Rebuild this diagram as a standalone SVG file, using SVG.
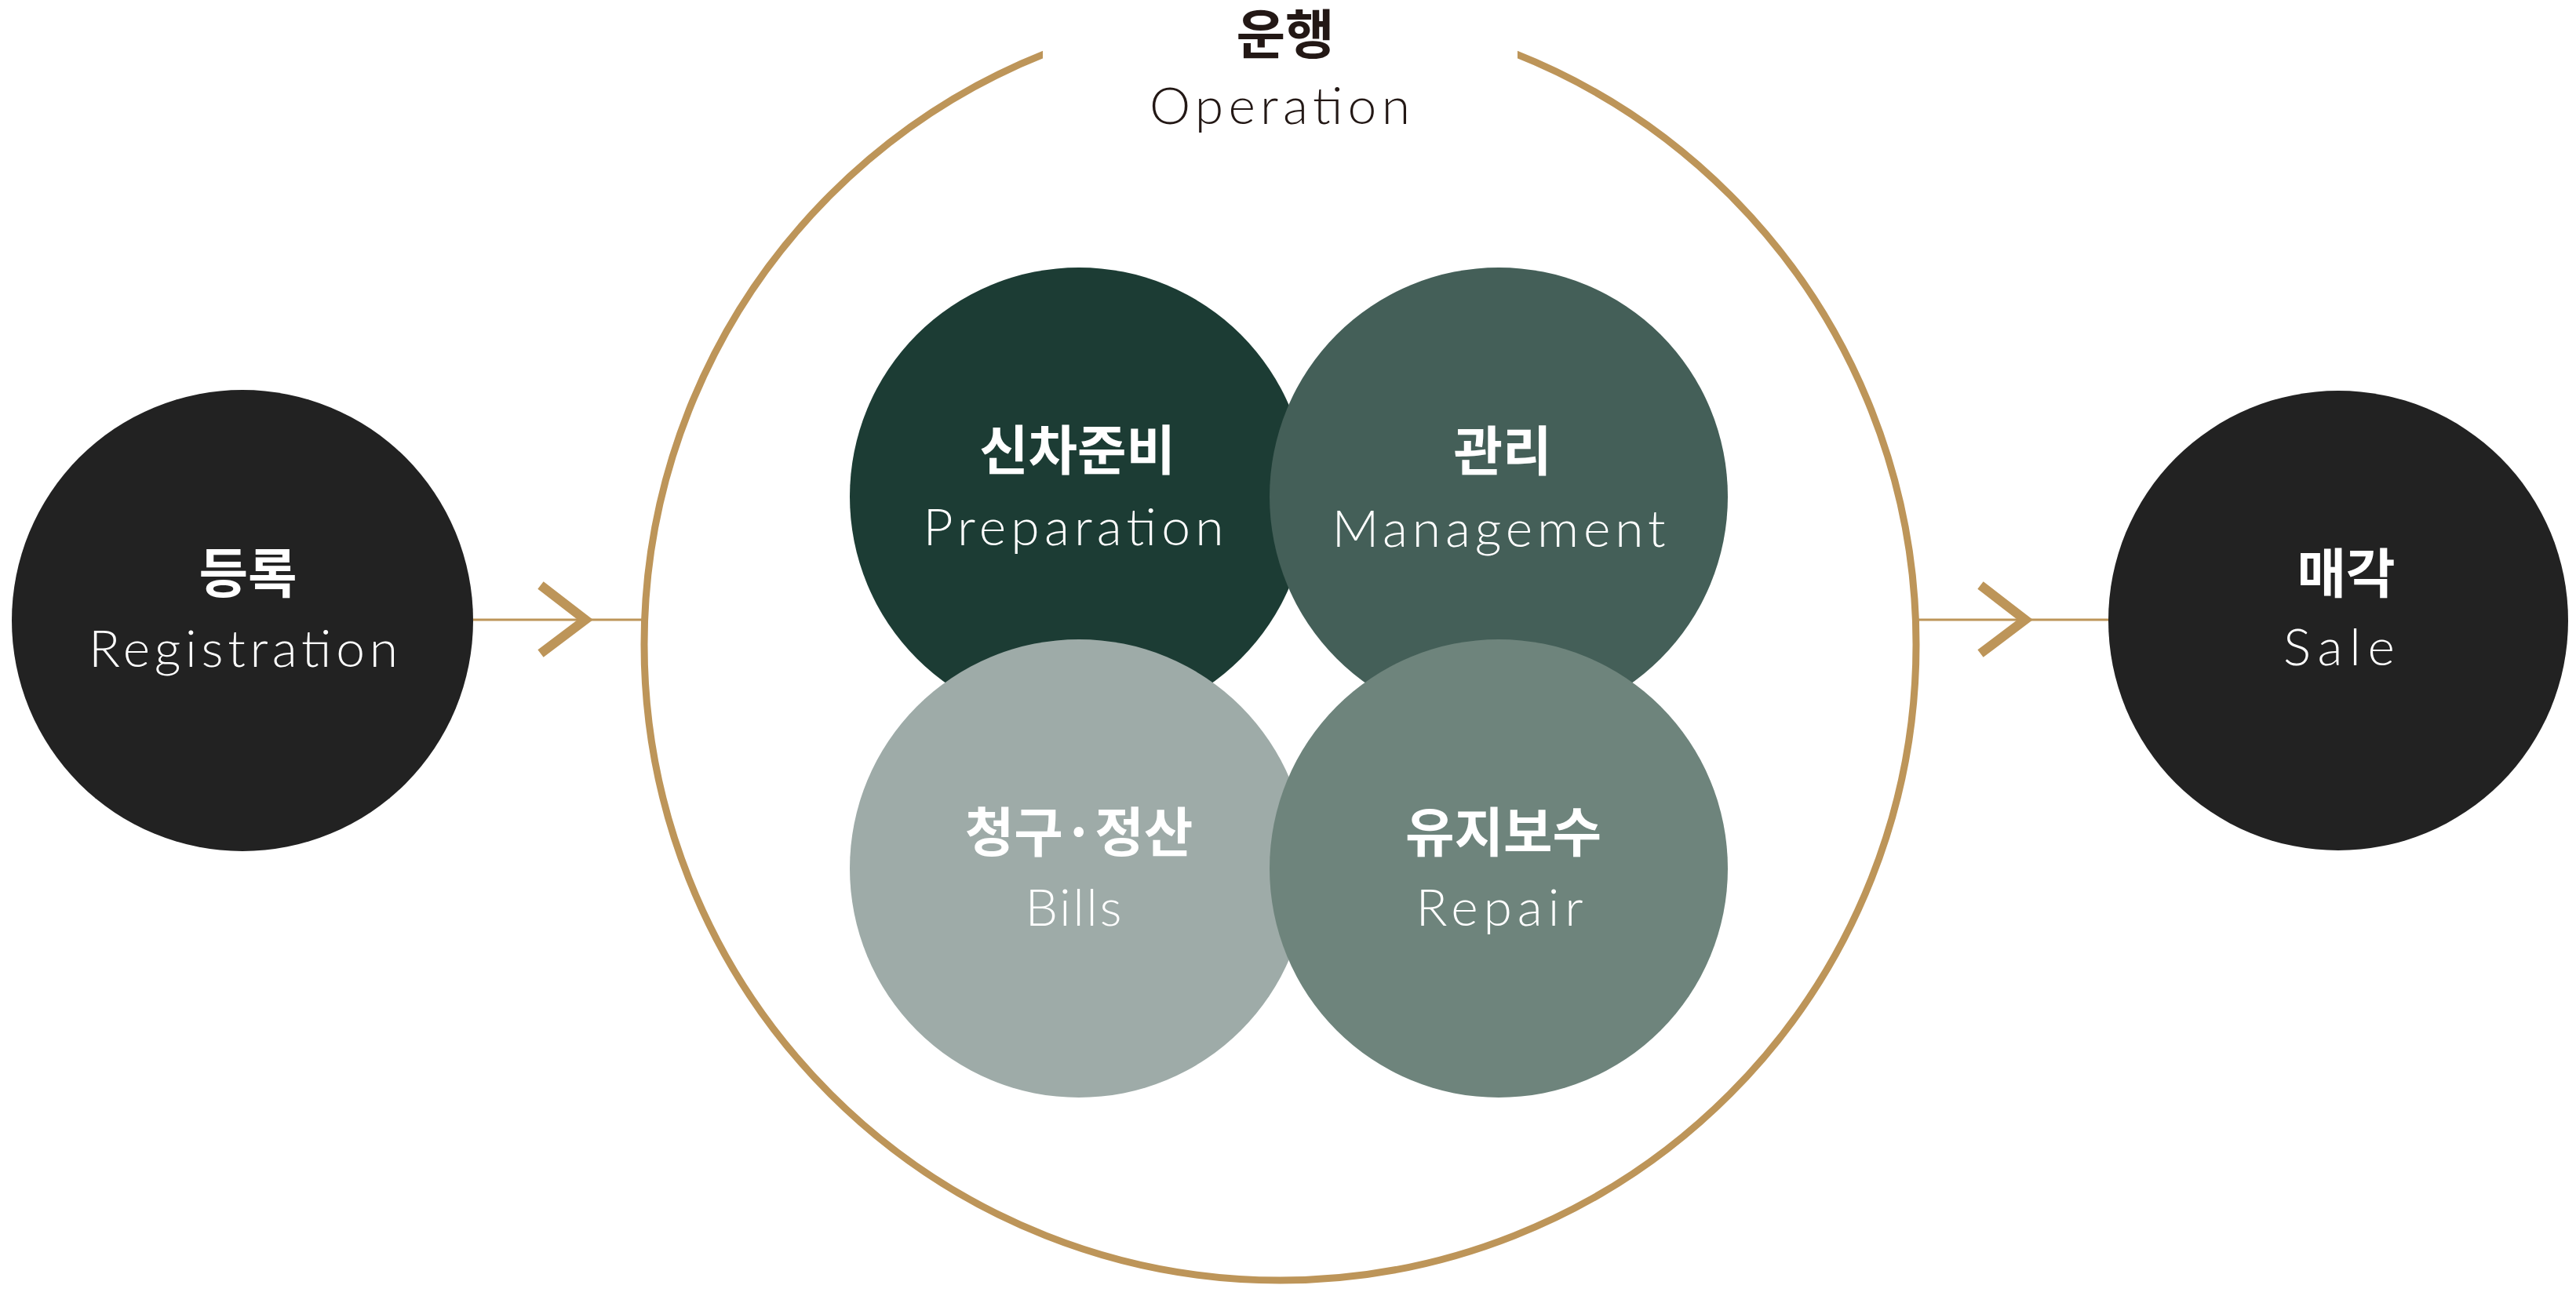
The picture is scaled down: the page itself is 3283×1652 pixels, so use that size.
<svg xmlns="http://www.w3.org/2000/svg" width="3283" height="1652" viewBox="0 0 3283 1652">
<style>
.ko{font-family:"Noto Sans CJK KR","Noto Sans",sans-serif;font-weight:700;font-size:68px;text-anchor:middle;fill:#ffffff}
.en{font-family:Lato,Inter,"Noto Sans",sans-serif;font-weight:300;font-size:66px;text-anchor:middle;fill:#ffffff}
.dark{fill:#231815}
.gold{stroke:#bd9559;fill:none}
</style>
<defs>
<clipPath id="gap">
<path clip-rule="evenodd" d="M0 0H3283V1652H0Z M1329 0V220H1934V0Z"/>
</clipPath>
</defs>
<rect width="3283" height="1652" fill="#ffffff"/>
<g id="connectors">
<line class="gold" x1="603" y1="790" x2="821" y2="790" stroke-width="3"/>
<polyline class="gold" points="689,746 746,790 689,833" stroke-width="12" stroke-miterlimit="10"/>
<line class="gold" x1="2442" y1="790" x2="2687" y2="790" stroke-width="3"/>
<polyline class="gold" points="2524,746 2581,790 2524,833" stroke-width="12" stroke-miterlimit="10"/>
</g>
<g id="operation">
<circle class="gold" cx="1631.5" cy="821.5" r="810.5" stroke-width="9" clip-path="url(#gap)"/>
<text class="ko dark" x="1638" y="69" font-size="66">운행</text>
<text class="en dark" x="1631" y="158" font-size="70" textLength="332">Operation</text>
</g>
<g id="registration">
<circle cx="309" cy="791" r="294" fill="#222222"/>
<text class="ko" x="316" y="756">등록</text>
<text class="en" x="310" y="850" textLength="394">Registration</text>
</g>
<g id="preparation">
<circle cx="1375" cy="633" r="292" fill="#1c3c34"/>
<text class="ko" x="1373" y="599">신차준비</text>
<text class="en" x="1368" y="695" textLength="383">Preparation</text>
</g>
<g id="management">
<circle cx="1910" cy="633" r="292" fill="#445f58"/>
<text class="ko" x="1915" y="600">관리</text>
<text class="en" x="1910" y="697" textLength="425">Management</text>
</g>
<g id="bills">
<circle cx="1375" cy="1107" r="292" fill="#9eaba8"/>
<text class="ko" x="1375" y="1086">청구·정산</text>
<text class="en" x="1368" y="1180" textLength="123">Bills</text>
</g>
<g id="repair">
<circle cx="1910" cy="1107" r="292" fill="#6e847c"/>
<text class="ko" x="1916" y="1086">유지보수</text>
<text class="en" x="1911" y="1180" textLength="213">Repair</text>
</g>
<g id="sale">
<circle cx="2980" cy="791" r="293" fill="#222222"/>
<text class="ko" x="2990" y="756">매각</text>
<text class="en" x="2981" y="848" textLength="142">Sale</text>
</g>
</svg>
